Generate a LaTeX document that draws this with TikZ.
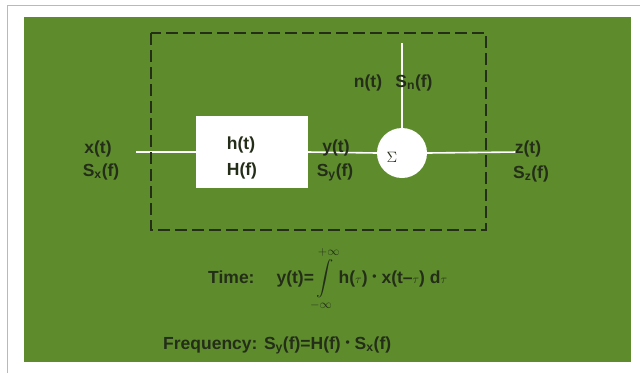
\documentclass[tikz,border=0pt]{standalone}
\usepackage{fix-cm}
\usepackage{exscale}
\usepackage{fontspec}
\setmainfont{Liberation Sans}
\usepackage{xcolor}
\definecolor{panel}{RGB}{94,140,45}
\definecolor{ink}{RGB}{35,45,24}
\newcommand{\mdot}{\raisebox{2.5pt}{\fontsize{12}{12}\selectfont\textbullet}}

\begin{document}
\begin{tikzpicture}[x=1pt, y=-1pt,
    lbl/.style={text=ink, font=\bfseries\fontsize{17.5}{19}\selectfont, inner sep=0pt},
    block/.style={fill=white, minimum width=112pt, minimum height=72pt, inner sep=0pt},
    adder/.style={circle, fill=white, minimum size=50pt, inner sep=0pt},
    wire/.style={white, line width=1.6pt},
    boundary/.style={ink, line width=1.5pt, dash pattern=on 12pt off 5pt}
]
\useasboundingbox (0,0) rectangle (640,373);
\draw[gray!55, line width=0.8pt] (7,373) -- (7,5) -- (640,5);
\fill[panel] (24,17) rectangle (631,362);

\node[block] at (252,152) (filter) {};
\node[adder] at (402,153) (adder) {};
\node[text=ink, font=\fontsize{15}{15}\selectfont, inner sep=0pt] at (392,157) (sigma) {$\Sigma$};

\coordinate (in) at (136,152);
\coordinate (out) at (518,152);
\coordinate (noise) at (402,43);
\draw[wire] (in) -- (filter.west);
\draw[wire] (filter.east) -- (adder.west);
\draw[wire] (adder.east) -- (out);
\draw[wire] (noise) -- (adder.north);

\draw[boundary] (151,33) rectangle (486,230);

% signal labels
\node[lbl, anchor=base] (xt) at (98,153) {x(t)};
\node[lbl, anchor=base] (sx) at (101,176) {S\textsubscript{x}(f)};
\node[lbl, anchor=base] (ht) at (241,149) {h(t)};
\node[lbl, anchor=base] (hf) at (242,175) {H(f)};
\node[lbl, anchor=base] (yt) at (336,152) {y(t)};
\node[lbl, anchor=base] (sy) at (335,176) {S\textsubscript{y}(f)};
\node[lbl, anchor=base] (nt) at (368,87) {n(t)};
\node[lbl, anchor=base] (sn) at (414,87) {S\textsubscript{n}(f)};
\node[lbl, anchor=base] (zt) at (528,153) {z(t)};
\node[lbl, anchor=base] (sz) at (531,178) {S\textsubscript{z}(f)};

% relations
\node[lbl, anchor=base west] (time) at (208,283) {Time:\hspace{22pt}y(t)=$\displaystyle\int\limits_{-\infty}^{+\infty}$\,h($\scriptstyle\tau$) \mdot{} x(t--$\scriptstyle\tau$) d$\scriptstyle\tau$};
\node[lbl, anchor=base west] (freq) at (163,349) {Frequency: S\textsubscript{y}(f)=H(f) \mdot{} S\textsubscript{x}(f)};
\end{tikzpicture}
\end{document}
